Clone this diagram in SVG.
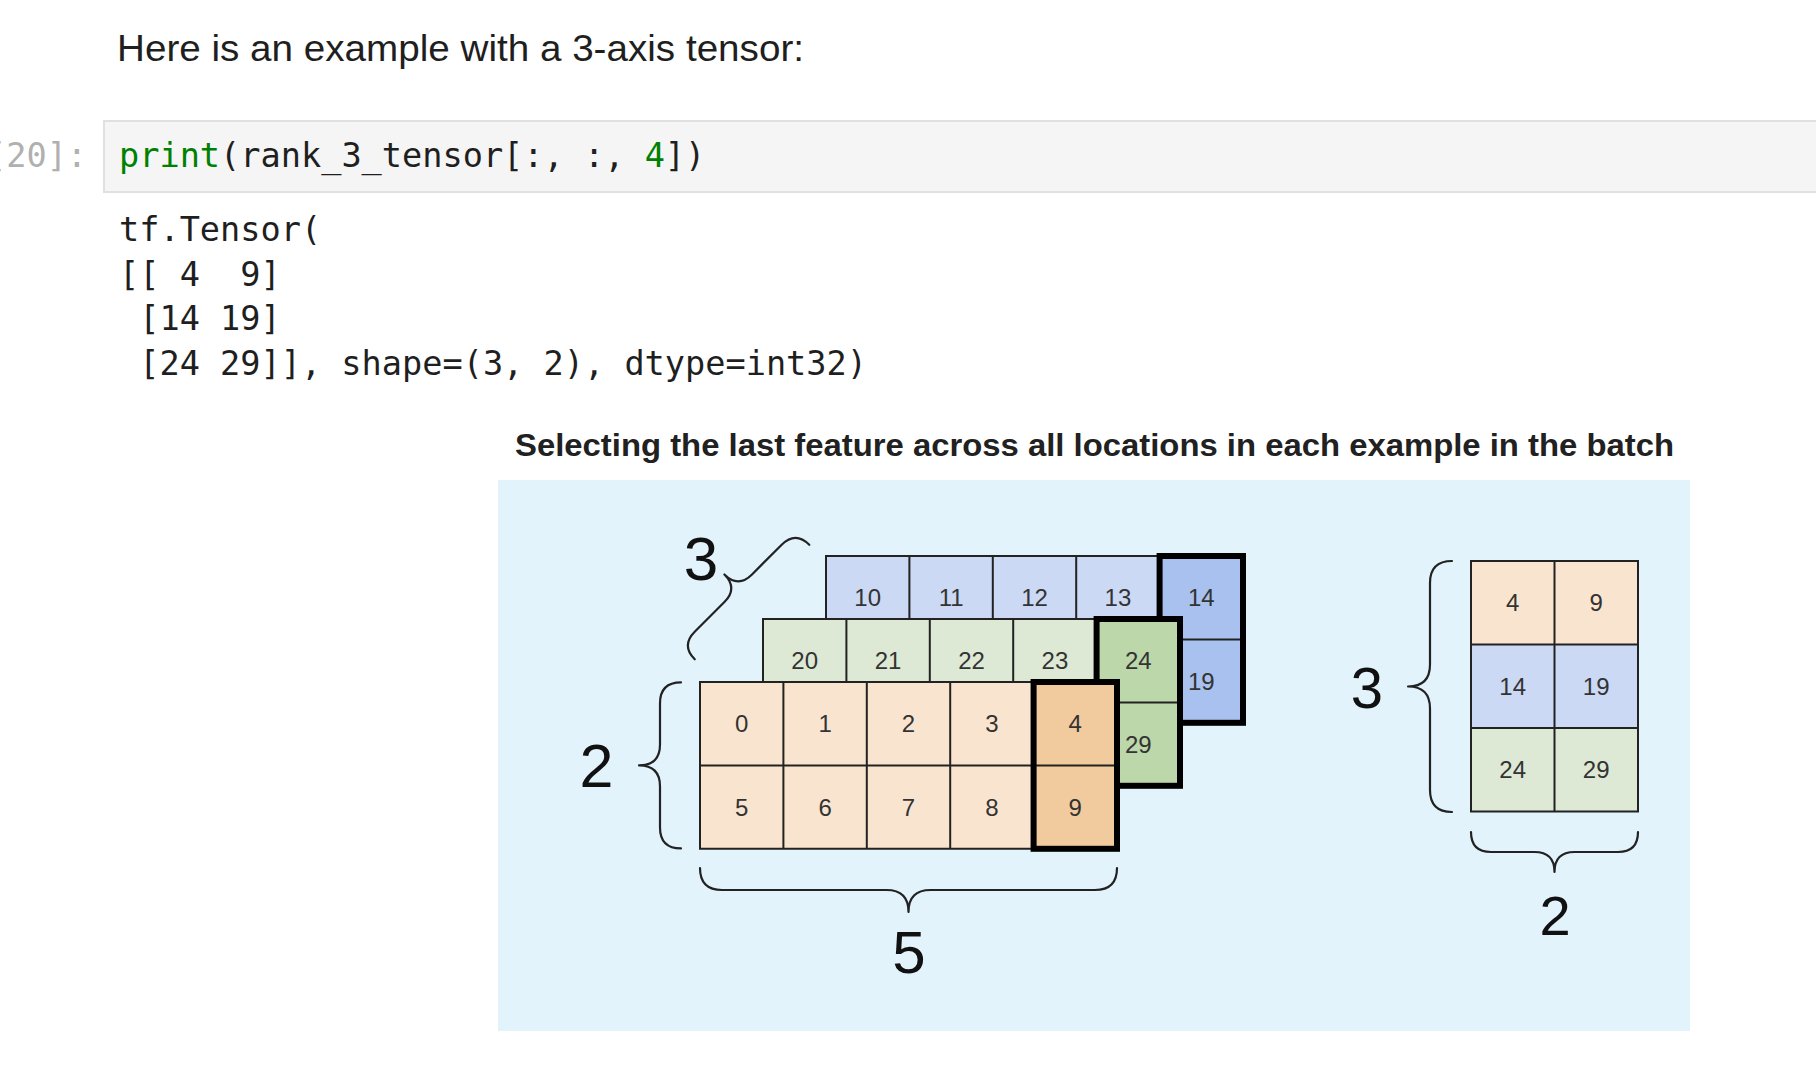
<svg xmlns="http://www.w3.org/2000/svg" width="1816" height="1092" viewBox="0 0 1816 1092">
<style>
.prose{font-family:"Liberation Sans",Arial,sans-serif;fill:#1f1f1f}
.mono{font-family:"DejaVu Sans Mono","Liberation Mono",monospace;font-size:33.6px;fill:#1f1f1f}
.kw{fill:#008000}
.prompt{fill:#b0b0b0}
.title{font-family:"Liberation Sans",Arial,sans-serif;font-weight:bold;font-size:32px;fill:#212121}
.grid{stroke:#222;stroke-width:2;fill:none}
.thick{stroke:#000;stroke-width:6;fill:none;stroke-linejoin:miter}
.num{font-family:"Liberation Sans",Arial,sans-serif;font-size:24px;fill:#333;text-anchor:middle}
.big{font-family:"Liberation Sans",Arial,sans-serif;fill:#111;text-anchor:middle}
.brace{stroke:#222;stroke-width:2.2;fill:none;stroke-linecap:round;stroke-linejoin:round}
.oL{fill:#f9e5cf}.oD{fill:#f1cb9e}
.gL{fill:#dde9d4}.gD{fill:#bcd7aa}
.bL{fill:#cbd9f4}.bD{fill:#a9c1ee}
</style>
<rect width="1816" height="1092" fill="#ffffff"/>

<g id="intro">
<text class="prose" x="117" y="61" font-size="36" textLength="687" lengthAdjust="spacingAndGlyphs">Here is an example with a 3-axis tensor:</text>
</g>

<g id="code-cell">
<rect x="104" y="121" width="1714" height="71" fill="#f5f5f5" stroke="#e0e0e0" stroke-width="2"/>
<text class="mono prompt" x="-14" y="167">[20]:</text>
<text class="mono" x="119" y="167"><tspan class="kw">print</tspan>(rank_3_tensor[:, :, <tspan class="kw">4</tspan>])</text>
</g>

<g id="output" class="mono">
<text class="mono" x="119" y="241" xml:space="preserve">tf.Tensor(</text>
<text class="mono" x="119" y="285.5" xml:space="preserve">[[ 4  9]</text>
<text class="mono" x="119" y="330" xml:space="preserve"> [14 19]</text>
<text class="mono" x="119" y="374.5" xml:space="preserve"> [24 29]], shape=(3, 2), dtype=int32)</text>
</g>

<g id="figure-title">
<text class="title" x="515" y="456" textLength="1159" lengthAdjust="spacingAndGlyphs">Selecting the last feature across all locations in each example in the batch</text>
</g>

<rect id="figure-background" x="498" y="480" width="1192" height="551" fill="#e2f3fc"/>

<g id="tensor-blue-back">
<rect class="bL" x="826" y="556" width="417" height="166.8"/>
<rect class="bD" x="1159.6" y="556" width="83.4" height="166.8"/>
<path class="grid" d="M826 556H1243V722.8H826Z M909.4 556V722.8 M992.8 556V722.8 M1076.2 556V722.8 M1159.6 556V722.8 M826 639.4H1243"/>
<rect class="thick" x="1159.6" y="556" width="83.4" height="166.8"/>
<text class="num" x="867.7" y="606">10</text>
<text class="num" x="951.1" y="606">11</text>
<text class="num" x="1034.5" y="606">12</text>
<text class="num" x="1117.9" y="606">13</text>
<text class="num" x="1201.3" y="606">14</text>
<text class="num" x="1201.3" y="689.6">19</text>
</g>

<g id="tensor-green-middle">
<rect class="gL" x="763" y="619" width="417" height="166.8"/>
<rect class="gD" x="1096.6" y="619" width="83.4" height="166.8"/>
<path class="grid" d="M763 619H1180V785.8H763Z M846.4 619V785.8 M929.8 619V785.8 M1013.2 619V785.8 M1096.6 619V785.8 M763 702.4H1180"/>
<rect class="thick" x="1096.6" y="619" width="83.4" height="166.8"/>
<text class="num" x="804.7" y="669">20</text>
<text class="num" x="888.1" y="669">21</text>
<text class="num" x="971.5" y="669">22</text>
<text class="num" x="1054.9" y="669">23</text>
<text class="num" x="1138.3" y="669">24</text>
<text class="num" x="1138.3" y="752.6">29</text>
</g>

<g id="tensor-orange-front">
<rect class="oL" x="700" y="682" width="417" height="166.8"/>
<rect class="oD" x="1033.6" y="682" width="83.4" height="166.8"/>
<path class="grid" d="M700 682H1117V848.8H700Z M783.4 682V848.8 M866.8 682V848.8 M950.2 682V848.8 M1033.6 682V848.8 M700 765.4H1117"/>
<rect class="thick" x="1033.6" y="682" width="83.4" height="166.8"/>
<text class="num" x="741.7" y="732">0</text>
<text class="num" x="825.1" y="732">1</text>
<text class="num" x="908.5" y="732">2</text>
<text class="num" x="991.9" y="732">3</text>
<text class="num" x="1075.3" y="732">4</text>
<text class="num" x="741.7" y="815.6">5</text>
<text class="num" x="825.1" y="815.6">6</text>
<text class="num" x="908.5" y="815.6">7</text>
<text class="num" x="991.9" y="815.6">8</text>
<text class="num" x="1075.3" y="815.6">9</text>
</g>

<g id="result-grid">
<rect class="oL" x="1471" y="561" width="167" height="83.5"/>
<rect class="bL" x="1471" y="644.5" width="167" height="83.5"/>
<rect class="gL" x="1471" y="728" width="167" height="83.5"/>
<path class="grid" d="M1471 561H1638V811.5H1471Z M1554.5 561V811.5 M1471 644.5H1638 M1471 728H1638"/>
<text class="num" x="1512.7" y="611">4</text>
<text class="num" x="1596.2" y="611">9</text>
<text class="num" x="1512.7" y="694.5">14</text>
<text class="num" x="1596.2" y="694.5">19</text>
<text class="num" x="1512.7" y="778">24</text>
<text class="num" x="1596.2" y="778">29</text>
</g>

<g id="braces">
<path class="brace" transform="translate(752,602) rotate(-45)" d="M-81 0Q-81 -19.5 -61.5 -19.5L-19.5 -19.5Q0 -19.5 0 -39Q0 -19.5 19.5 -19.5L61.5 -19.5Q81 -19.5 81 0"/>
<path class="brace" transform="translate(681,765.4) rotate(-90)" d="M-83 0Q-83 -21 -62 -21L-21 -21Q0 -21 0 -42Q0 -21 21 -21L62 -21Q83 -21 83 0"/>
<path class="brace" transform="translate(908.5,868) rotate(180)" d="M-208.5 0Q-208.5 -22 -186.5 -22L-22 -22Q0 -22 0 -44Q0 -22 22 -22L186.5 -22Q208.5 -22 208.5 0"/>
<path class="brace" transform="translate(1452,686.5) rotate(-90)" d="M-125.5 0Q-125.5 -22 -103.5 -22L-22 -22Q0 -22 0 -44Q0 -22 22 -22L103.5 -22Q125.5 -22 125.5 0"/>
<path class="brace" transform="translate(1554.5,832) rotate(180)" d="M-83.5 0Q-83.5 -20 -63.5 -20L-20 -20Q0 -20 0 -40Q0 -20 20 -20L63.5 -20Q83.5 -20 83.5 0"/>
</g>

<g id="dimension-labels">
<text class="big" x="701" y="580" font-size="62">3</text>
<text class="big" x="596.5" y="787" font-size="61">2</text>
<text class="big" x="909" y="973" font-size="60">5</text>
<text class="big" x="1367" y="708" font-size="58">3</text>
<text class="big" x="1555" y="935" font-size="56">2</text>
</g>
</svg>
